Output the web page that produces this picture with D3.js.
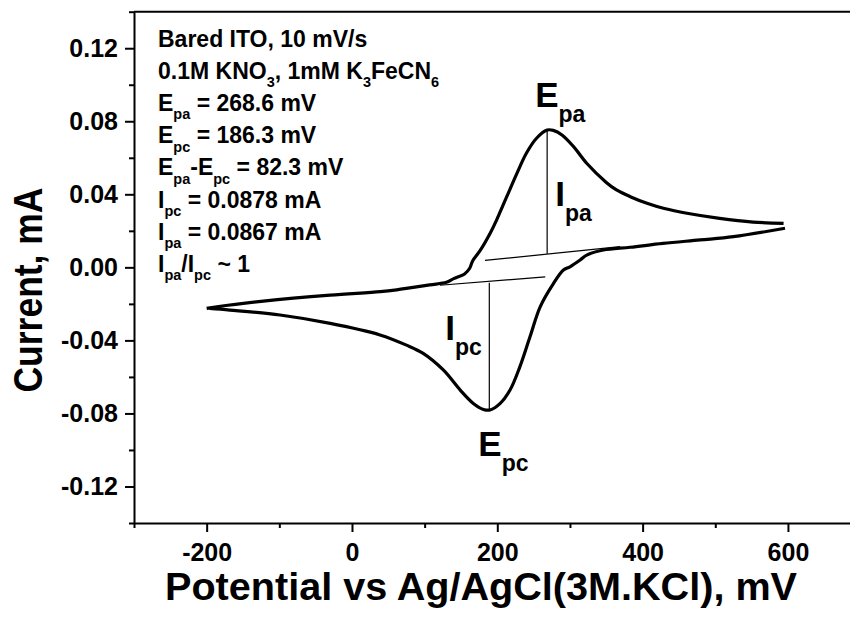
<!DOCTYPE html>
<html>
<head>
<meta charset="utf-8">
<script src="https://cdn.jsdelivr.net/npm/d3@7/dist/d3.min.js"></script>
<style>
  body { margin: 0; background: #fff; }
  svg { display: block; font-family: "Liberation Sans", Arial, sans-serif; font-weight: bold; }
</style>
</head>
<body>
<svg></svg>
<script>
// forward (anodic) scan, -200 -> 600 mV
const forwardE = [-200, -186, -122, -30, 39, 61.5, 107, 130, 140, 155, 162, 166, 176, 190, 199, 213, 227, 240, 254, 268.6, 277, 289, 305, 323, 350, 364, 383, 406, 430, 461, 506, 552, 594];
const forwardI = [-0.0225, -0.0216, -0.0185, -0.0152, -0.0133, -0.0123, -0.0096, -0.0082, -0.0062, -0.0036, -0.0005, 0.0035, 0.0090, 0.0186, 0.0259, 0.0387, 0.0515, 0.0625, 0.0707, 0.0752, 0.0750, 0.0725, 0.0661, 0.0570, 0.0465, 0.0424, 0.0387, 0.0351, 0.0322, 0.0296, 0.0268, 0.0248, 0.0241];

// reverse (cathodic) scan, 600 -> -200 mV
const reverseE = [596, 525, 479, 428, 383, 346, 323, 314, 300, 291, 277, 259, 245, 231, 217.5, 204, 190, 181, 167, 149, 126, 98, 75, 38.5, -30, -99, -168, -196];
const reverseI = [0.0214, 0.0168, 0.0150, 0.0131, 0.0110, 0.0095, 0.0067, 0.0040, 0.0003, -0.0015, -0.0090, -0.0216, -0.0380, -0.0545, -0.0672, -0.0745, -0.0781, -0.0778, -0.0745, -0.0672, -0.0563, -0.0471, -0.0426, -0.0370, -0.0307, -0.0261, -0.0234, -0.0225];

// baselines used for peak currents
const anodicBaseE = [183, 369];
const anodicBaseI = [0.0038, 0.0113];
const cathodicBaseE = [121, 266];
const cathodicBaseI = [-0.0098, -0.0052];

// peak drop lines: [anodic, cathodic]
const peakE = [268.6, 189];
const peakTopI = [0.0752, -0.0779];
const peakBaseI = [0.0074, -0.0084];

const xTicks = [-200, 0, 200, 400, 600];
const xMinorTicks = [-300, -100, 100, 300, 500, 700];
const yTicks = [-0.12, -0.08, -0.04, 0.00, 0.04, 0.08, 0.12];
const yMinorTicks = [-0.14, -0.10, -0.06, -0.02, 0.02, 0.06, 0.10, 0.14];

const xTitle = 'Potential vs Ag/AgCl(3M.KCl), mV';
const yTitle = 'Current, mA';

// [text, isSubscript]
const noteLines = [
  [['Bared ITO, 10 mV/s']],
  [['0.1M KNO'], ['3', 1], [', 1mM K'], ['3', 1], ['FeCN'], ['6', 1]],
  [['E'], ['pa', 1], [' = 268.6 mV']],
  [['E'], ['pc', 1], [' = 186.3 mV']],
  [['E'], ['pa', 1], ['-E'], ['pc', 1], [' = 82.3 mV']],
  [['I'], ['pc', 1], [' = 0.0878 mA']],
  [['I'], ['pa', 1], [' = 0.0867 mA']],
  [['I'], ['pa', 1], ['/I'], ['pc', 1], [' ~ 1']]
];

const width = 850,
      height = 618;

const x = d3.scaleLinear().domain([-300, 700]).range([134, 860.6]);
const y = d3.scaleLinear().domain([-0.14, 0.14]).range([523, 11.7]);

const svg = d3.select('svg')
    .attr('width', width)
    .attr('height', height);

// axes
const xAxis = svg.append('g')
    .attr('transform', `translate(0, ${y(-0.14)})`)
    .call(d3.axisBottom(x).tickValues(xTicks).tickSize(9).tickSizeOuter(0).tickFormat((d) => String(d)));

svg.append('g')
    .attr('transform', `translate(0, ${y(-0.14)})`)
    .call(d3.axisBottom(x).tickValues(xMinorTicks).tickSize(5).tickSizeOuter(0).tickFormat(''))
    .select('.domain').remove();

const yAxis = svg.append('g')
    .attr('transform', `translate(${x(-300)}, 0)`)
    .call(d3.axisLeft(y).tickValues(yTicks).tickSize(9).tickSizeOuter(0).tickFormat((d) => d.toFixed(2)));

svg.append('g')
    .attr('transform', `translate(${x(-300)}, 0)`)
    .call(d3.axisLeft(y).tickValues(yMinorTicks).tickSize(5).tickSizeOuter(0).tickFormat(''))
    .select('.domain').remove();

// top frame line
svg.append('line')
    .attr('x1', x(-300)).attr('x2', x(700))
    .attr('y1', y(0.14)).attr('y2', y(0.14))
    .attr('stroke', '#000').attr('stroke-width', 2);

svg.selectAll('.domain').attr('stroke-width', 2);
svg.selectAll('.tick line').attr('stroke-width', 2);

xAxis.selectAll('.tick text')
    .attr('font-size', 25)
    .attr('font-weight', 'bold')
    .attr('font-family', '"Liberation Sans", Arial, sans-serif')
    .attr('y', 20)
    .attr('dy', '0.71em');

yAxis.selectAll('.tick text')
    .attr('font-size', 25)
    .attr('font-weight', 'bold')
    .attr('font-family', '"Liberation Sans", Arial, sans-serif')
    .attr('x', -16);

// axis titles
svg.append('text')
    .attr('x', 481)
    .attr('y', 600)
    .attr('text-anchor', 'middle')
    .attr('font-size', 38)
    .attr('textLength', 632)
    .attr('lengthAdjust', 'spacingAndGlyphs')
    .text(xTitle);

svg.append('text')
    .attr('transform', 'translate(42, 290) rotate(-90)')
    .attr('text-anchor', 'middle')
    .attr('font-size', 40)
    .attr('textLength', 205)
    .attr('lengthAdjust', 'spacingAndGlyphs')
    .text(yTitle);

// CV curve
const line = d3.line()
    .x((d) => x(d[0]))
    .y((d) => y(d[1]))
    .curve(d3.curveCatmullRom.alpha(0.5));

const curves = [
  d3.zip(forwardE, forwardI),
  d3.zip(reverseE, reverseI)
];

svg.append('g')
  .selectAll('path')
  .data(curves)
  .enter()
  .append('path')
    .attr('d', line)
    .attr('fill', 'none')
    .attr('stroke', '#000')
    .attr('stroke-width', 3.2)
    .attr('stroke-linejoin', 'round');

// baselines and peak drops
const thin = svg.append('g').attr('stroke', '#000').attr('stroke-width', 1.2);

[[anodicBaseE, anodicBaseI], [cathodicBaseE, cathodicBaseI]].forEach(([es, is]) => {
  thin.append('line')
      .attr('x1', x(es[0])).attr('y1', y(is[0]))
      .attr('x2', x(es[1])).attr('y2', y(is[1]));
});

peakE.forEach((e, i) => {
  thin.append('line')
      .attr('x1', x(e)).attr('y1', y(peakBaseI[i]))
      .attr('x2', x(e)).attr('y2', y(peakTopI[i]));
});

// info block
const note = svg.append('g')
    .attr('font-size', 23);

noteLines.forEach((parts, i) => {
  const t = note.append('text')
      .attr('x', 158)
      .attr('y', 46.5 + i * 32.2);
  let wasSub = false;
  parts.forEach(([s, sub]) => {
    const span = t.append('tspan').text(s);
    if (sub) {
      span.attr('font-size', 14.5).attr('dy', wasSub ? 0 : 8.5);
      wasSub = true;
    } else {
      if (wasSub) span.attr('dy', -8.5);
      wasSub = false;
    }
  });
});

// big peak labels
function bigLabel(px, py, main, sub) {
  const t = svg.append('text')
      .attr('x', px)
      .attr('y', py)
      .attr('font-size', 35);
  t.append('tspan').text(main);
  t.append('tspan').attr('font-size', 23).attr('dy', 15).text(sub);
}

bigLabel(x(peakE[0]) - 12, 107, 'E', 'pa');
bigLabel(x(peakE[0]) + 8, 206, 'I', 'pa');
bigLabel(x(peakE[1]) - 44, 340, 'I', 'pc');
bigLabel(x(peakE[1]) - 11, 456, 'E', 'pc');
</script>
</body>
</html>
